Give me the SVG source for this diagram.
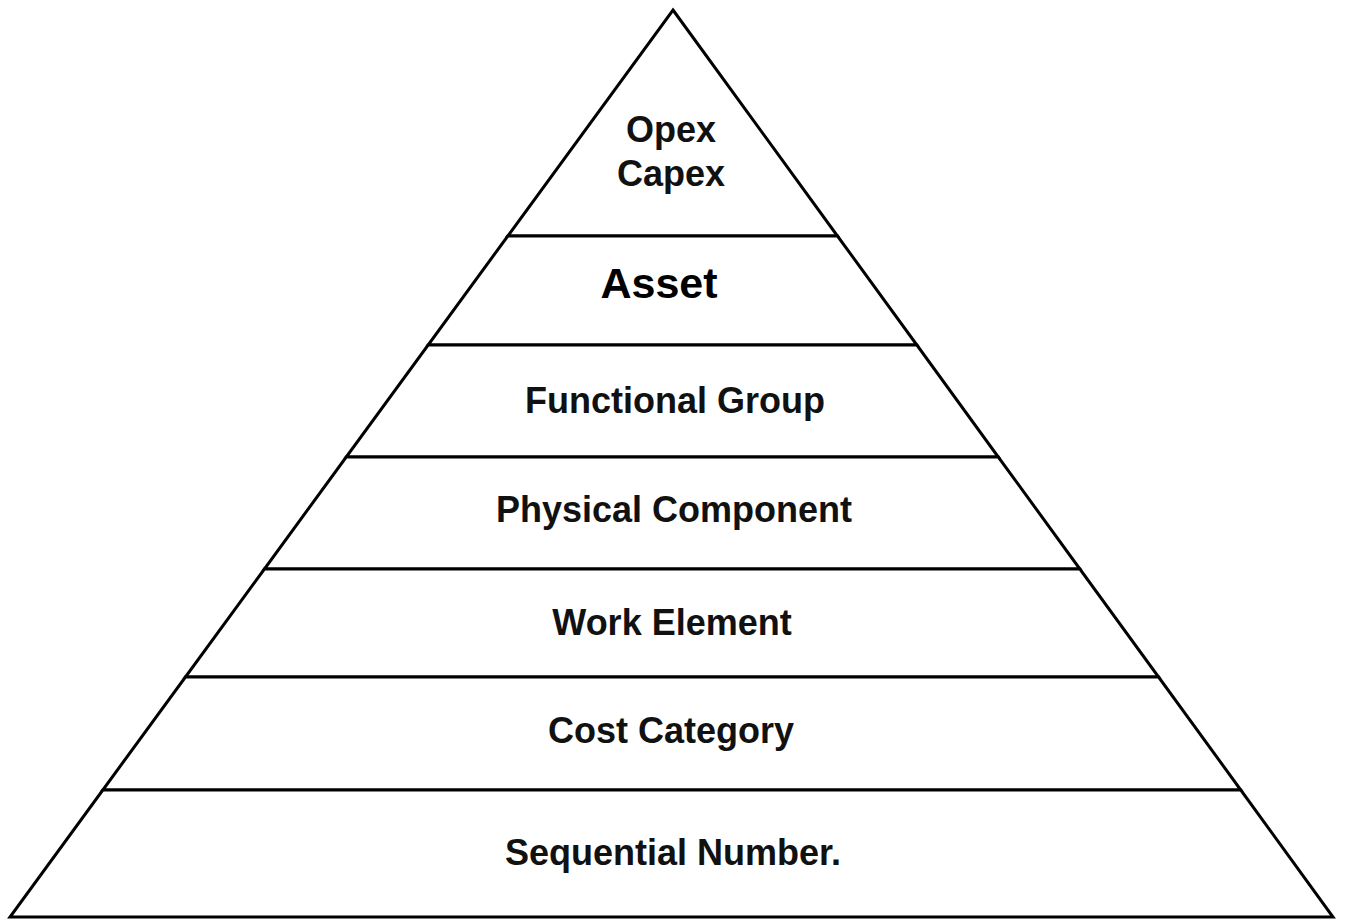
<svg xmlns="http://www.w3.org/2000/svg" width="1349" height="922" viewBox="0 0 1349 922">
<style>
.layer{fill:#ffffff;stroke:#000000;stroke-width:3;stroke-linejoin:miter}
.lbl{font-family:"Liberation Sans",Arial,sans-serif;font-size:36px;font-weight:bold;fill:#111111;text-anchor:middle}
.big{font-size:43px;fill:#000000}
</style>
<rect width="1349" height="922" fill="#ffffff"/>
<g id="layer-opex-capex">
<polygon class="layer" points="673,10 837.5,236 507.8,236"/>
<text class="lbl" x="671" y="142">Opex</text>
<text class="lbl" x="671" y="186">Capex</text>
</g>
<g id="layer-asset">
<polygon class="layer" points="507.8,236 837.5,236 916.9,345 428.1,345"/>
<text class="lbl big" x="659" y="298">Asset</text>
</g>
<g id="layer-functional-group">
<polygon class="layer" points="428.1,345 916.9,345 998.3,457 346.2,457"/>
<text class="lbl" x="675" y="413">Functional Group</text>
</g>
<g id="layer-physical-component">
<polygon class="layer" points="346.2,457 998.3,457 1079.9,569 264.4,569"/>
<text class="lbl" x="674" y="522">Physical Component</text>
</g>
<g id="layer-work-element">
<polygon class="layer" points="264.4,569 1079.9,569 1158.6,677 185.4,677"/>
<text class="lbl" x="672" y="635">Work Element</text>
</g>
<g id="layer-cost-category">
<polygon class="layer" points="185.4,677 1158.6,677 1240.8,790 102.8,790"/>
<text class="lbl" x="671" y="743">Cost Category</text>
</g>
<g id="layer-sequential-number">
<polygon class="layer" points="102.8,790 1240.8,790 1333,917 10,917"/>
<text class="lbl" x="673" y="865">Sequential Number.</text>
</g>
<g id="connectors"></g>
</svg>
